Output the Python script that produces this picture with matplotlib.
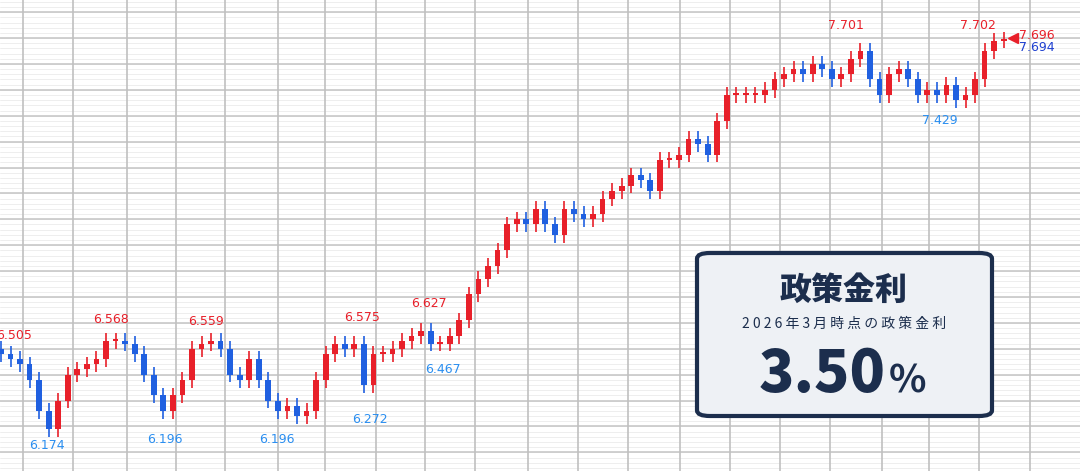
import matplotlib
matplotlib.use("Agg")
import matplotlib.pyplot as plt
from matplotlib.patches import FancyBboxPatch
import numpy as np

plt.rcParams['font.family'] = ['Noto Sans CJK JP', 'DejaVu Sans']

closes = [6.48,6.46,6.44,6.38,6.26,6.19,6.30,6.40,6.42,6.44,6.46,6.53,6.53,6.52,6.48,6.40,6.32,6.26,6.32,6.38,
          6.50,6.52,6.53,6.50,6.40,6.38,6.46,6.38,6.30,6.26,6.28,6.24,6.26,6.38,6.48,6.52,6.50,6.52,6.36,6.48,
          6.48,6.50,6.53,6.55,6.57,6.52,6.52,6.55,6.61,6.71,6.77,6.82,6.88,6.98,7.00,6.98,7.04,6.98,6.94,7.04,
          7.02,7.00,7.02,7.08,7.11,7.13,7.17,7.15,7.11,7.23,7.23,7.25,7.31,7.29,7.25,7.38,7.48,7.48,7.48,7.48,
          7.50,7.54,7.56,7.58,7.56,7.60,7.58,7.54,7.56,7.62,7.65,7.54,7.48,7.56,7.58,7.54,7.48,7.50,7.48,7.52,
          7.46,7.48,7.54,7.65,7.69,7.695]
first_open = 6.50
wick = 0.03

label_vals = [6.505, 6.174, 6.568, 6.196, 6.559, 6.196, 6.575, 6.272, 6.627, 6.467, 7.701, 7.429, 7.702]
label_idx  = [1.4, 4.8, 11.5, 17.2, 21.5, 28.9, 37.8, 38.6, 44.8, 46.3, 88.5, 98.3, 102.3]
label_kind = ['h','l','h','l','h','l','h','l','h','l','h','l','h']
last_bid, last_ask = 7.696, 7.694
grid_x_px = [23,73,127,176,225,278,325,376,425,475,528,578,628,680,730,780,830,882,929,979,1030]

RED, BLUE = '#e8202a', '#2060e0'
fig = plt.figure(figsize=(10.8, 4.71), dpi=100)
ax = fig.add_axes([0, 0, 1, 1])
ax.set_facecolor('#ededed')
step = 9.55
ax.set_xlim(-0.1, 1080/step - 0.1)
ax.set_ylim(6.028, 7.847)
for v in np.arange(6.0, 7.9, 0.02):
    ax.axhline(v, color='#e2e2e2', lw=0.4, zorder=0)
for v in np.arange(6.0, 7.9, 0.1):
    ax.axhline(v, color='#c8c8c8', lw=1.2, zorder=1)
for p in grid_x_px:
    ax.axvline(p/step - 0.1, color='#c0c0c0', lw=1.2, zorder=1)

opens = [first_open] + closes[:-1]
for i, (o, c) in enumerate(zip(opens, closes)):
    col = RED if c >= o else BLUE
    ax.vlines(i, min(o, c) - wick, max(o, c) + wick, color=col, lw=1.2, zorder=3)
    ax.bar(i, max(abs(c - o), 0.008), bottom=min(o, c), width=0.6, color=col, zorder=3)

for v, i, k in zip(label_vals, label_idx, label_kind):
    if k == 'h':
        ax.annotate(f'{v:.3f}', (i, v), xytext=(0, 4), textcoords='offset points', ha='center', va='bottom',
                    color=RED, fontsize=9, family='DejaVu Sans')
    else:
        ax.annotate(f'{v:.3f}', (i, v), xytext=(0, -4), textcoords='offset points', ha='center', va='top',
                    color='#2a8ef0', fontsize=9, family='DejaVu Sans')
xm = 1012/step
ax.plot([xm], [last_bid + 0.005], marker='<', color=RED, ms=7, zorder=5)
ax.text(xm + 0.6, last_bid + 0.012, f'{last_bid:.3f}', color=RED, fontsize=9, va='center', family='DejaVu Sans')
ax.text(xm + 0.6, last_ask - 0.03, f'{last_ask:.3f}', color='#1d3fd0', fontsize=9, va='center', family='DejaVu Sans')
ax.axis('off')

box = FancyBboxPatch((697/1080, 1-416/471), 295/1080, 163/471, boxstyle='round,pad=0,rounding_size=0.012',
                     transform=fig.transFigure, facecolor='#eef1f5', edgecolor='#1c2e4d', lw=3, zorder=10)
fig.patches.append(box)
navy = '#1c2e4d'
fig.text(844/1080, 1-290/471, '政策金利', ha='center', va='center', fontsize=23, fontweight='black', color=navy, zorder=11)
fig.text(844/1080, 1-324/471, '2 0 2 6 年 3 月 時 点 の 政 策 金 利', ha='center', va='center', fontsize=10, color=navy, zorder=11)
fig.text(822/1080, 1-375/471, '3.50', ha='center', va='center', fontsize=42, fontweight='black', color=navy, zorder=11)
fig.text(907/1080, 1-381/471, '%', ha='center', va='center', fontsize=28, fontweight='bold', color=navy, zorder=11)
fig.savefig('out.png', dpi=100)
